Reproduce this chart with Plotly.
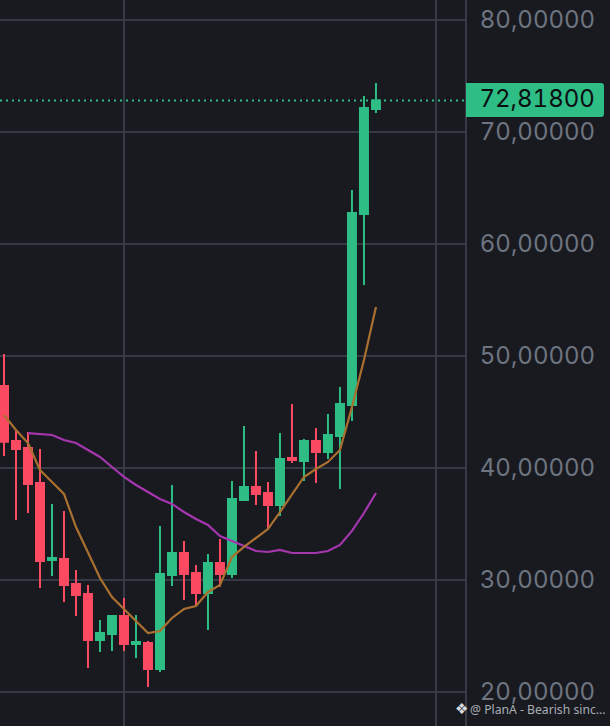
import plotly.graph_objects as go

# values
candle_open = [47.32, 42.41, 41.79, 38.66, 31.79, 31.87, 29.64, 28.75, 24.64, 25.18, 26.79, 24.29, 24.38, 22.05, 30.45, 32.41,
               30.62, 28.84, 31.52, 30.54, 37.14, 38.30, 37.77, 36.70, 40.89, 40.62, 42.41, 41.43, 42.86, 45.62, 62.68, 72.05]
candle_high = [50.18, 43.39, 43.21, 41.70, 36.79, 36.16, 30.89, 29.55, 26.43, 26.88, 28.39, 26.88, 24.55, 34.82, 38.48, 33.48,
               31.34, 32.32, 33.66, 38.84, 43.75, 41.52, 38.75, 43.12, 45.71, 42.59, 43.57, 44.82, 47.23, 64.82, 73.21, 74.38]
candle_low = [41.07, 35.36, 35.98, 29.29, 30.36, 28.04, 26.79, 22.14, 23.57, 23.66, 23.66, 23.04, 20.45, 21.79, 29.46, 28.21,
              27.68, 25.54, 29.38, 30.18, 37.14, 36.70, 34.46, 35.71, 40.45, 38.84, 38.66, 40.80, 38.12, 44.20, 56.34, 71.70]
candle_close = [42.35, 41.70, 38.57, 31.70, 31.96, 29.55, 28.66, 24.64, 25.27, 26.79, 24.29, 24.46, 22.05, 30.54, 32.41, 30.54,
                28.84, 31.52, 30.54, 37.23, 38.30, 37.68, 36.70, 40.80, 40.71, 42.41, 41.43, 42.95, 45.71, 62.77, 72.14, 72.82]

ma_fast = [44.73, 43.39, 42.23, 39.82, 38.75, 37.68, 34.73, 32.41, 30.18, 28.48, 27.41, 26.25, 25.27, 25.45, 26.61, 27.41,
           27.68, 28.93, 29.55, 32.05, 32.95, 33.75, 34.55, 36.07, 37.59, 39.20, 39.91, 40.54, 41.61, 45.45, 49.64, 54.38]
ma_slow = [None, None, 43.12, 43.04, 42.95, 42.50, 42.23, 41.61, 40.98, 40.09, 39.20, 38.48, 37.86, 37.23, 36.79, 36.07,
           35.45, 34.91, 33.93, 33.48, 33.04, 32.59, 32.50, 32.68, 32.41, 32.41, 32.41, 32.59, 33.13, 34.38, 35.98, 37.77]

price_ticks = [20, 30, 40, 50, 60, 70, 80]
price_labels = ["20,00000", "30,00000", "40,00000", "50,00000", "60,00000", "70,00000", "80,00000"]
last_price = 72.818
last_label = "72,81800"

W, H = 610, 726
PLOT_W = 465
BG = "#181a20"
GRID = "#363a45"
GREEN = "#2ebd85"
RED = "#fb4a61"
FONT = "Inter"

bars = list(range(len(candle_open)))

fig = go.Figure()
fig.add_trace(go.Scatter(x=bars, y=ma_slow, mode="lines", line=dict(color="#a536ae", width=2.2)))
fig.add_trace(go.Scatter(x=bars, y=ma_fast, mode="lines", line=dict(color="#a9702f", width=2.2)))
fig.add_trace(go.Candlestick(
    x=bars, open=candle_open, high=candle_high, low=candle_low, close=candle_close,
    whiskerwidth=0,
    increasing=dict(line=dict(color=GREEN, width=2), fillcolor=GREEN),
    decreasing=dict(line=dict(color=RED, width=2), fillcolor=RED),
))


def px(x):
    return x / PLOT_W


def py(y):
    return 1 - y / H


# price tag, rounded on the right side only
tag = "M %f,%f L %f,%f Q %f,%f %f,%f L %f,%f Q %f,%f %f,%f L %f,%f Z" % (
    px(466), py(83), px(601), py(83), px(604), py(83), px(604), py(86),
    px(604), py(114), px(604), py(117), px(601), py(117), px(466), py(117))

fig.update_layout(
    width=W, height=H,
    margin=dict(l=0, r=W - PLOT_W, t=0, b=0),
    paper_bgcolor=BG, plot_bgcolor=BG,
    showlegend=False,
    boxgap=1 / 3, boxgroupgap=0,
    font=dict(family=FONT),
    xaxis=dict(range=[-1 / 3, 38.42], tickvals=[10, 36], showticklabels=False, ticks="",
               showgrid=True, gridcolor=GRID, gridwidth=2, zeroline=False,
               rangeslider=dict(visible=False)),
    yaxis=dict(range=[16.964, 81.786], side="right", tickvals=price_ticks, ticktext=price_labels,
               ticks="outside", ticklen=8, tickcolor="rgba(0,0,0,0)",
               tickfont=dict(family=FONT, size=24, color="#6e7480"),
               showgrid=True, gridcolor=GRID, gridwidth=2, zeroline=False,
               showline=True, linecolor=GRID, linewidth=2, automargin=False),
    shapes=[
        dict(type="line", xref="paper", x0=0, x1=1, yref="y", y0=last_price, y1=last_price,
             line=dict(color=GREEN, width=2, dash="2px 4px")),
        dict(type="path", xref="paper", yref="paper", path=tag, fillcolor=GREEN, line=dict(width=0)),
    ],
    annotations=[
        dict(xref="paper", yref="y", x=px(483), y=last_price, yshift=2, text=last_label, showarrow=False,
             xanchor="left", yanchor="middle", font=dict(family=FONT, size=24, color="#0b0e11")),
        dict(xref="paper", yref="paper", x=px(461), y=py(709), text="❖", showarrow=False,
             xanchor="center", yanchor="middle", font=dict(family="DejaVu Sans", size=15, color="#d8dbe0")),
        dict(xref="paper", yref="paper", x=px(468), y=py(709), text="@ PlanA - Bearish sinc...", showarrow=False,
             xanchor="left", yanchor="middle", font=dict(family="Noto Sans", size=12.2, color="#a9adb5")),
    ],
)

# drop the page's default body margin; price scale has even digit widths
css = ".ytick text, .annotation[data-index='0'] text {font-feature-settings:'tnum';}"
post = "document.body.style.margin='0';var st=document.createElement('style');st.textContent=\"%s\";document.head.appendChild(st);" % css
fig.write_html("out.html", config=dict(displayModeBar=False), post_script=post)
